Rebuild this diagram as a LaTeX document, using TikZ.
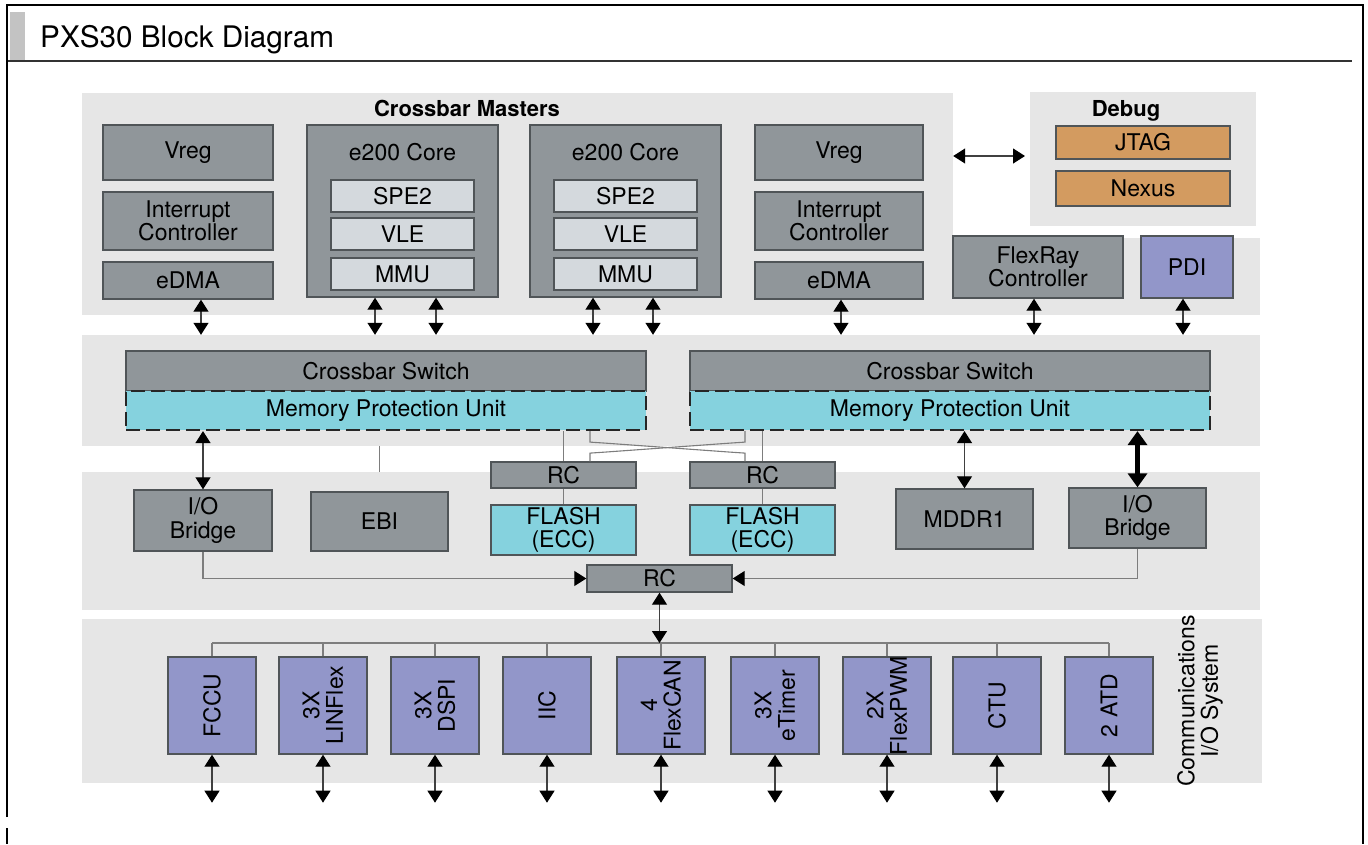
\documentclass[tikz,border=0pt]{standalone}
\usepackage{fontspec}
\setmainfont{TeX Gyre Heros}
\usetikzlibrary{arrows.meta}
\definecolor{panelgray}{RGB}{230,230,230}
\definecolor{boxgray}{RGB}{144,150,154}
\definecolor{boxedge}{RGB}{80,85,88}
\definecolor{lightbox}{RGB}{212,217,221}
\definecolor{cyanbox}{RGB}{133,210,222}
\definecolor{purplebox}{RGB}{146,150,201}
\definecolor{orangebox}{RGB}{211,155,96}
\definecolor{linegray}{RGB}{125,125,125}
\definecolor{headbar}{RGB}{195,195,195}
\newcommand\bxf{\fontsize{23}{23.5}\selectfont}
\newcommand\lblf{\fontsize{22}{24}\selectfont\bfseries}
\newcommand\ttlf{\fontsize{29.7}{31}\selectfont}
\begin{document}
\begin{tikzpicture}[x=1pt,y=-1pt,
  sz/.style 2 args={minimum width=#1,minimum height=#2},
  panel/.style={fill=panelgray,draw=none,inner sep=0},
  gbox/.style={draw=boxedge,fill=boxgray,line width=1.4pt,inner sep=0,align=center,font=\bxf},
  lbox/.style={gbox,fill=lightbox},
  cbox/.style={gbox,fill=cyanbox},
  pbox/.style={gbox,fill=purplebox},
  obox/.style={gbox,fill=orangebox},
  mpu/.style={draw=black!85,fill=cyanbox,line width=2.2pt,dash pattern=on 14pt off 6pt,inner sep=0,font=\bxf},
  txt/.style={inner sep=0,align=center,font=\bxf},
  rot/.style={inner sep=0,align=center,font=\bxf,rotate=90},
  lbl/.style={inner sep=0,font=\lblf},
  thinl/.style={draw=linegray,line width=1.1pt},
  arr/.style={draw=black!75,line width=1.2pt,{Triangle[width=15pt,length=12pt,color=black]}-{Triangle[width=15pt,length=12pt,color=black]}},
  arrone/.style={draw=linegray,line width=1.1pt,-{Triangle[width=15pt,length=12pt,color=black]}},
  thickarr/.style={draw=black,line width=5pt,{Triangle[width=19pt,length=14pt]}-{Triangle[width=19pt,length=14pt]}}
]
\useasboundingbox (0,0) rectangle (1368,844);
% frame and header
\fill[headbar] (10,12) rectangle (25,61);
\draw[line width=2pt,black!80] (7,61) -- (1352,61);
\draw[line width=2pt,black] (7,817) -- (7,5) -- (1363,5) -- (1363,844);
\draw[line width=2pt,black] (7,828) -- (7,844);
\node[anchor=base west,font=\ttlf,inner sep=0] (title) at (40,47) {PXS30 Block Diagram};
% panels
\node[panel,sz={871}{222}] (mpan) at (517.5,204) {};
\node[panel,sz={307}{77}] (fpan) at (1106.5,276.5) {};
\node[panel,sz={226}{134}] (dpan) at (1143,159) {};
\node[panel,sz={1178}{111}] (xpan) at (671,390.5) {};
\node[panel,sz={1178}{138}] (mid) at (671,541) {};
\node[panel,sz={1180}{164}] (bpan) at (672,701) {};
\node[lbl] (xmt) at (467,108) {Crossbar Masters};
\node[lbl] (dbt) at (1126,111) {Debug};
% crossbar masters
\node[gbox,sz={170}{55}] (vregl) at (188,152.5) {Vreg};
\node[gbox,sz={170}{58}] (intl) at (188,221) {Interrupt\\Controller};
\node[gbox,sz={170}{37}] (edmal) at (188,280.5) {eDMA};
\node[gbox,sz={191}{172}] (corel) at (402.5,211) {};
\node[txt] (corelt) at (402.5,152) {e200 Core};
\node[lbox,sz={143}{32}] (spel) at (402.5,196) {SPE2};
\node[lbox,sz={143}{32}] (vlel) at (402.5,234) {VLE};
\node[lbox,sz={143}{32}] (mmul) at (402.5,274) {MMU};
\node[gbox,sz={191}{172}] (corer) at (625.5,211) {};
\node[txt] (corert) at (625.5,152) {e200 Core};
\node[lbox,sz={143}{32}] (sper) at (625.5,196) {SPE2};
\node[lbox,sz={143}{32}] (vler) at (625.5,234) {VLE};
\node[lbox,sz={143}{32}] (mmur) at (625.5,274) {MMU};
\node[gbox,sz={168}{55}] (vregr) at (839,152.5) {Vreg};
\node[gbox,sz={168}{58}] (intr) at (839,221) {Interrupt\\Controller};
\node[gbox,sz={168}{37}] (edmar) at (839,280.5) {eDMA};
% debug
\node[obox,sz={174}{33}] (jtag) at (1143,142.5) {JTAG};
\node[obox,sz={174}{35}] (nexus) at (1143,188.5) {Nexus};
\node[gbox,sz={170}{62}] (flexray) at (1038,267) {FlexRay\\Controller};
\node[pbox,sz={92}{62}] (pdi) at (1187,267) {PDI};
% crossbar switches
\node[gbox,sz={520}{40}] (xbl) at (386,371) {Crossbar Switch};
\node[mpu,sz={520}{39}] (mpul) at (386,410.5) {Memory Protection Unit};
\node[gbox,sz={520}{40}] (xbr) at (950,371) {Crossbar Switch};
\node[mpu,sz={520}{39}] (mpur) at (950,410.5) {Memory Protection Unit};
% middle
\node[gbox,sz={138}{61}] (iobl) at (203,520.5) {I/O\\Bridge};
\node[gbox,sz={137}{59}] (ebi) at (379.5,521.5) {EBI};
\node[gbox,sz={145}{26}] (rcl) at (563.5,475) {RC};
\node[cbox,sz={145}{50}] (flashl) at (563.5,530) {FLASH\\(ECC)};
\node[gbox,sz={145}{26}] (rcr) at (762.5,475) {RC};
\node[cbox,sz={145}{50}] (flashr) at (762.5,530) {FLASH\\(ECC)};
\node[gbox,sz={137}{60}] (mddr) at (964.5,519) {MDDR1};
\node[gbox,sz={137}{60}] (iobr) at (1137.5,518) {I/O\\Bridge};
\node[gbox,sz={145}{27}] (rcb) at (659.5,578.5) {RC};
% bottom peripherals
\node[pbox,sz={88}{97}] (fccu) at (212,705.5) {};
\node[pbox,sz={88}{97}] (lin) at (323,705.5) {};
\node[pbox,sz={88}{97}] (dspi) at (435,705.5) {};
\node[pbox,sz={88}{97}] (iic) at (547,705.5) {};
\node[pbox,sz={88}{97}] (can) at (661,705.5) {};
\node[pbox,sz={88}{97}] (etim) at (775,705.5) {};
\node[pbox,sz={88}{97}] (pwm) at (887,705.5) {};
\node[pbox,sz={88}{97}] (ctu) at (997,705.5) {};
\node[pbox,sz={88}{97}] (atd) at (1109,705.5) {};
\node[rot] (fccut) at (fccu) {FCCU};
\node[rot] (lint) at (lin) {3X\\LINFlex};
\node[rot] (dspit) at (dspi) {3X\\DSPI};
\node[rot] (iict) at (iic) {IIC};
\node[rot] (cant) at (can) {4\\FlexCAN};
\node[rot] (etimt) at (etim) {3X\\eTimer};
\node[rot] (pwmt) at (pwm) {2X\\FlexPWM};
\node[rot] (ctut) at (ctu) {CTU};
\node[rot] (atdt) at (atd) {2 ATD};
\node[rot] (comm) at (1200,701) {Communications\\I/O System};
% connectors: masters to crossbar
\draw[arr] ([xshift=13pt]edmal.south) -- ([xshift=13pt]edmal.south |- xpan.north);
\draw[arr] ([xshift=-27.5pt]corel.south) -- ([xshift=-27.5pt]corel.south |- xpan.north);
\draw[arr] ([xshift=33.5pt]corel.south) -- ([xshift=33.5pt]corel.south |- xpan.north);
\draw[arr] ([xshift=-32.5pt]corer.south) -- ([xshift=-32.5pt]corer.south |- xpan.north);
\draw[arr] ([xshift=27.5pt]corer.south) -- ([xshift=27.5pt]corer.south |- xpan.north);
\draw[arr] ([xshift=2pt]edmar.south) -- ([xshift=2pt]edmar.south |- xpan.north);
\draw[arr] ([xshift=-4pt]flexray.south) -- ([xshift=-4pt]flexray.south |- xpan.north);
\draw[arr] ([xshift=-4pt]pdi.south) -- ([xshift=-4pt]pdi.south |- xpan.north);
\coordinate (dbgend) at (1025,156);
\draw[arr] ([yshift=48pt]mpan.east) -- (dbgend);
% crossbar to middle
\draw[arr] (iobl.north) -- (iobl.north |- mpul.south);
\draw[thinl] (ebi.north |- xpan.south) -- (ebi.north |- mid.north);
\draw[thinl] (rcl.north) -- (rcl.north |- mpul.south);
\draw[thinl] (rcl.south) -- (flashl.north);
\draw[thinl] (rcr.north) -- (rcr.north |- mpur.south);
\draw[thinl] (rcr.south) -- (flashr.north);
\draw[thinl] ([xshift=26.5pt]rcl.north |- mpul.south) -- ++(0,11) -- ++(15,1) -- ++(125,9) -- ++(15,1) -- ([xshift=-17.5pt]rcr.north);
\draw[thinl] ([xshift=-17.5pt]rcr.north |- mpur.south) -- ++(0,11) -- ++(-15,1) -- ++(-125,9) -- ++(-15,1) -- ([xshift=26.5pt]rcl.north);
\draw[arr] (mddr.north) -- (mddr.north |- mpur.south);
\draw[thickarr] (iobr.north) -- (iobr.north |- mpur.south);
\draw[arrone] (iobl.south) |- (rcb.west);
\draw[arrone] (iobr.south) |- (rcb.east);
% bus
\coordinate (bus) at (0,643);
\draw[thinl] (fccu.north |- bus) -- (atd.north |- bus);
\foreach \n in {fccu,lin,dspi,iic,can,etim,pwm,ctu,atd}{
  \draw[thinl] (\n.north) -- (\n.north |- bus);
  \coordinate (\n-out) at ([yshift=-48pt]\n.south);
  \draw[arr] (\n.south) -- (\n-out);
}
\draw[arr] (rcb.south) -- (rcb.south |- bus);
\end{tikzpicture}
\end{document}
